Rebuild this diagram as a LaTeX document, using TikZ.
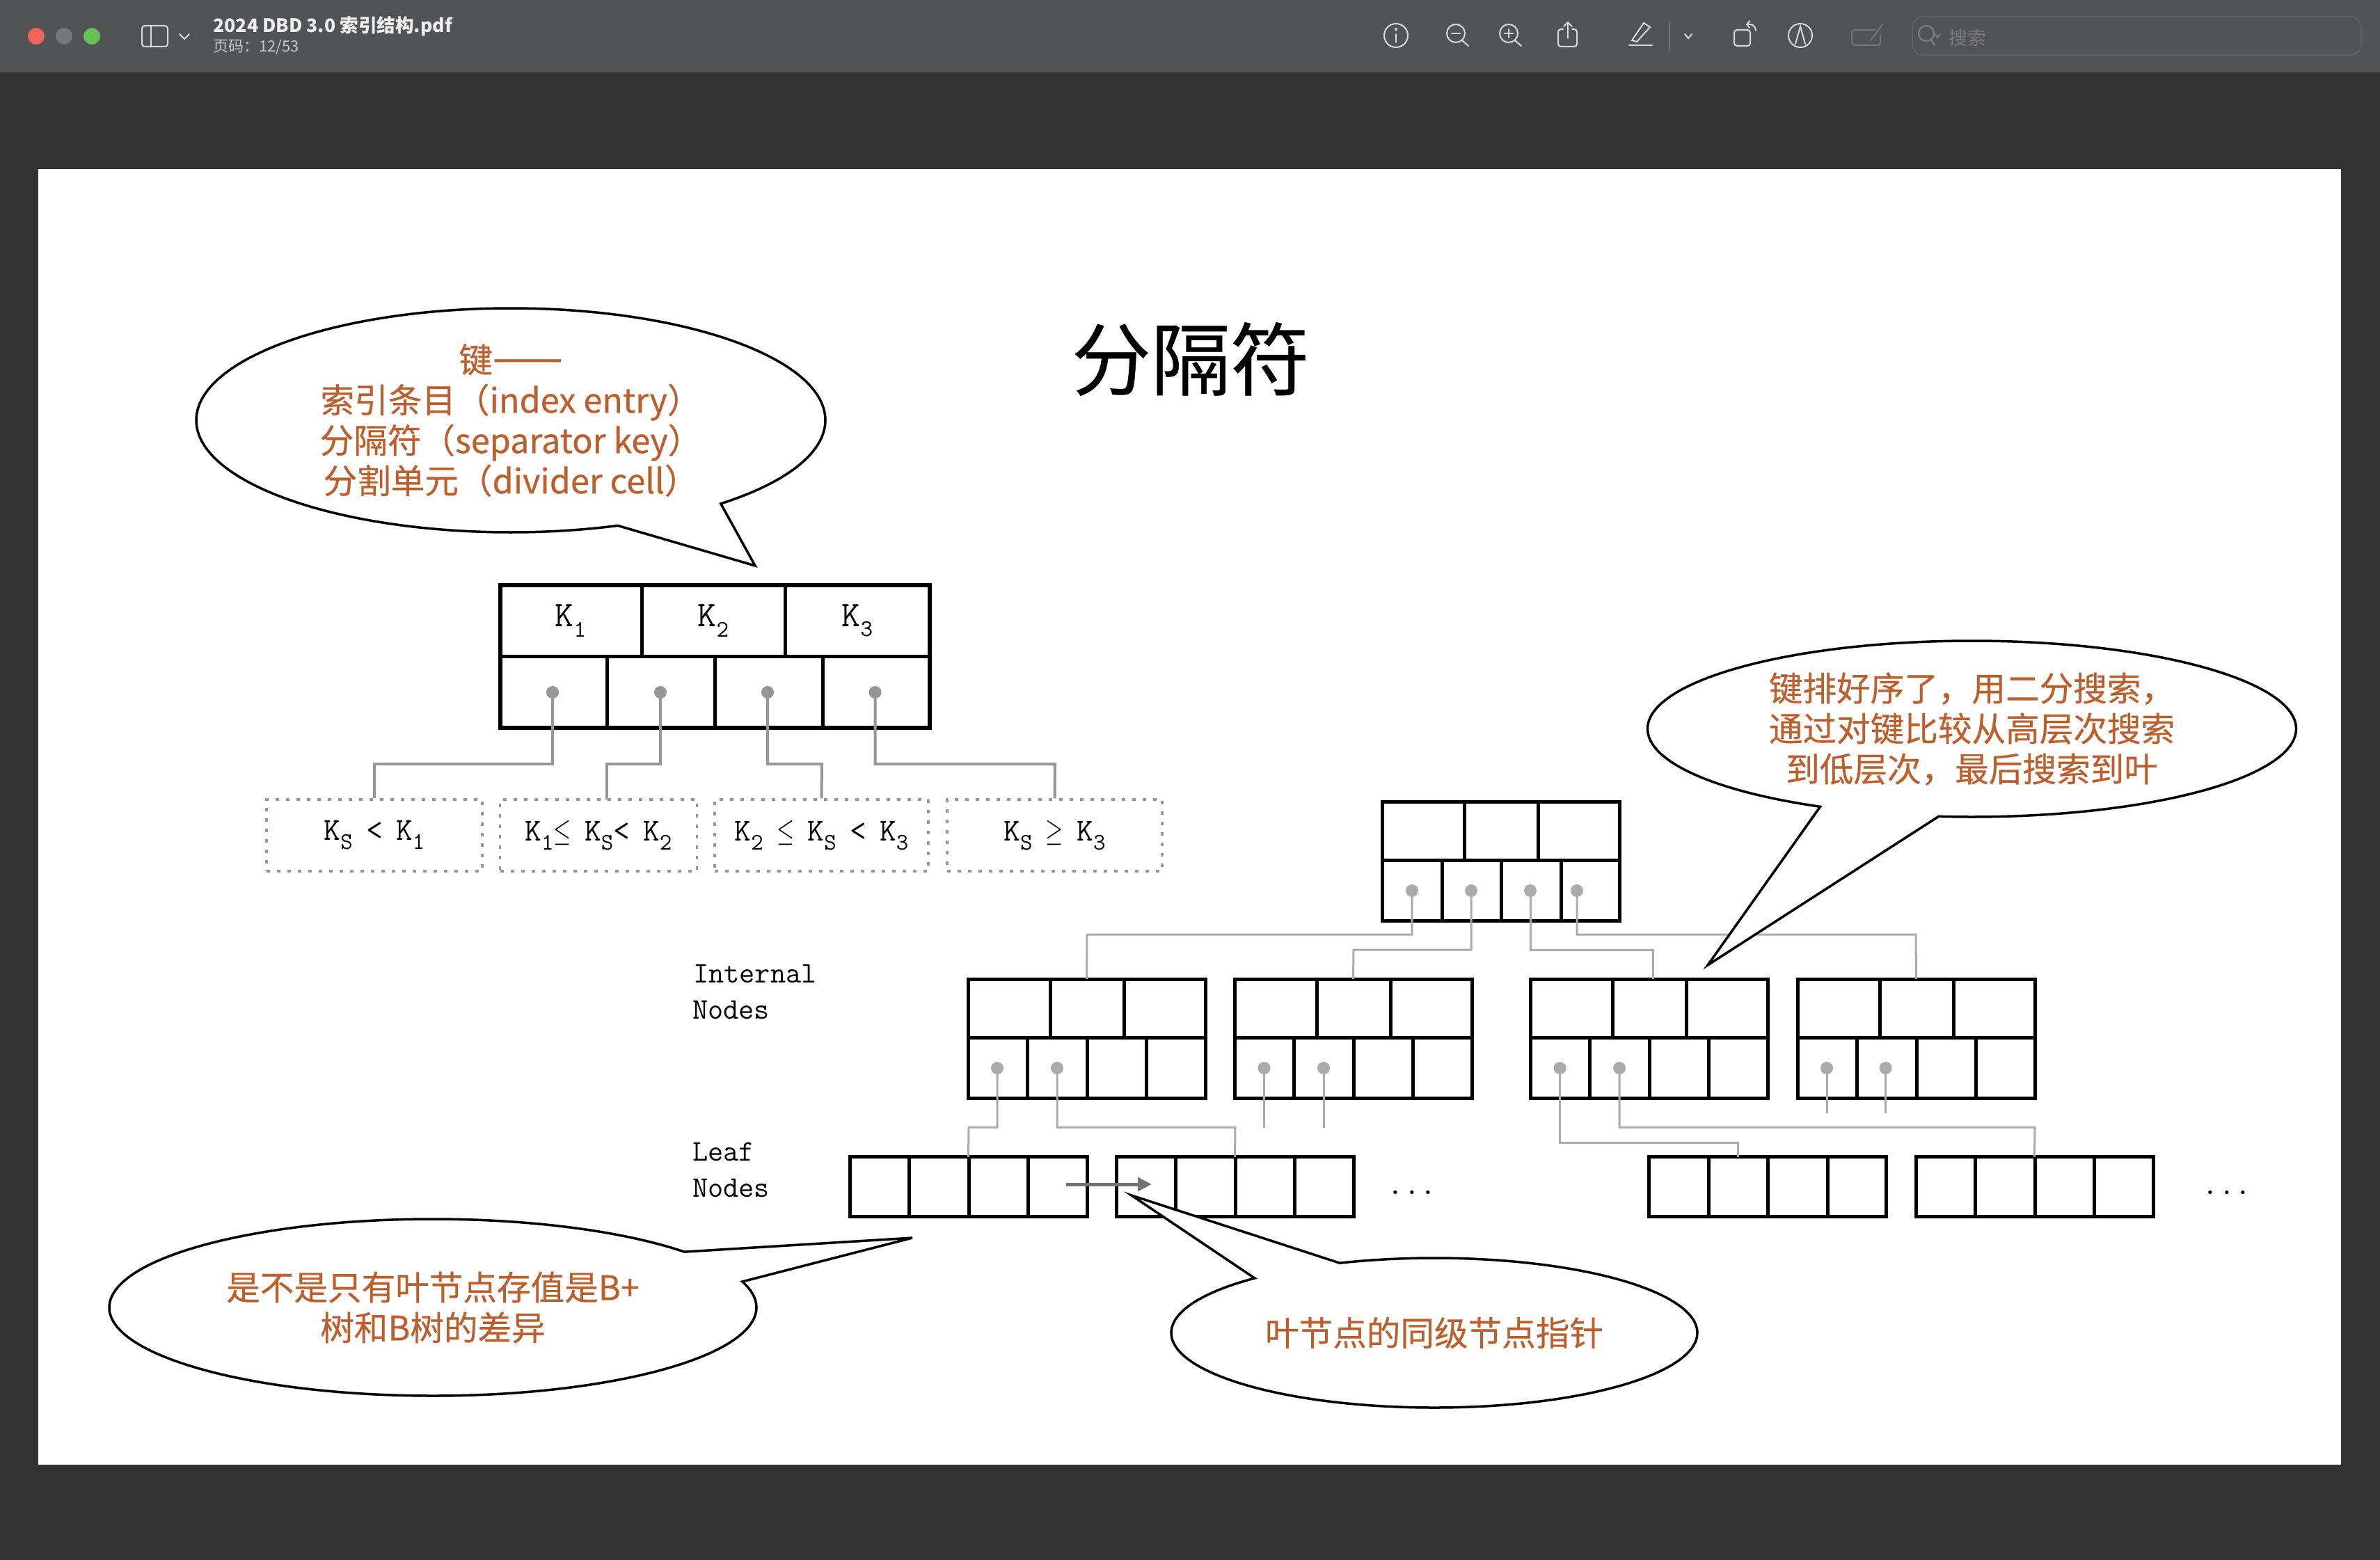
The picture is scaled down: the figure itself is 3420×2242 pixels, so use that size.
\documentclass[tikz,border=0pt]{standalone}
\usepackage{fix-cm}
\usepackage{fontspec}
\usetikzlibrary{calc,shapes.callouts,arrows.meta,shadows}
\newfontfamily\cjk{Noto Sans CJK SC}
\newfontfamily\cjkheavy[FakeBold=0.4]{Noto Sans CJK SC}

\definecolor{barbg}{HTML}{525355}
\definecolor{deskbg}{HTML}{333333}
\definecolor{noteink}{HTML}{BC5F2C}
\definecolor{ptrtop}{HTML}{969696}
\definecolor{ptrlow}{HTML}{ABABAB}
\definecolor{lampred}{HTML}{F1665C}
\definecolor{lampgrey}{HTML}{76777A}
\definecolor{lampgreen}{HTML}{5FC454}

\newcommand{\ttheavy}{\ttfamily\addfontfeature{FakeBold=0.3}}

\tikzset{
  cellline/.style={draw=black, line width=2.5pt},
  blockbox/.style={cellline, fill=white, drop shadow={opacity=.22, shadow xshift=.75pt, shadow yshift=-1.5pt}, anchor=north west, inner sep=0pt, outer sep=0pt, minimum width=170.5pt},
  ptrdot/.style={circle, fill=ptrlow, inner sep=0pt, outer sep=0pt, minimum size=9pt},
  ptrline/.style={draw=ptrlow, line width=1.5pt},
  condbox/.style={draw=ptrtop, line width=1.75pt, dash pattern=on 2.5pt off 5pt, inner sep=0pt, minimum height=51.5pt, font=\fontsize{23}{23}\ttheavy},
  keytext/.style={inner sep=0pt, font=\fontsize{26}{26}\ttheavy},
  moretext/.style={inner sep=0pt, font=\fontsize{23}{23}\ttheavy},
  sidetext/.style={anchor=base west, inner sep=0pt, font=\fontsize{21.5}{21.5}\ttheavy},
  notebox/.style={ellipse callout, draw=black, fill=white, line width=1.75pt, inner sep=0pt, outer sep=0pt, callout pointer arc=22, text=noteink, align=center, font=\fontsize{24.3}{29}\cjkheavy},
  barline/.style={draw=#1, line width=1pt, line cap=round},
  barline/.default={white!85!black},
}

\newcommand{\ksub}[1]{\raisebox{-0.28em}{\fontsize{17}{17}\selectfont #1}}
\newcommand{\kgap}{\hspace{.42em}}
\newcommand{\kleq}{\scalebox{.7}[1]{$\leq$}}
\newcommand{\kgeq}{\scalebox{.7}[1]{$\geq$}}

% three keys over four pointers
\newcommand{\treeblock}[3]{%
  \node[blockbox, minimum height=85.5pt] (#1) at (#2,#3) {};
  \foreach \dx in {118,224} \draw[cellline] ($(#1.north west)+(\dx,0)$) -- ++(0,84);
  \draw[cellline] ($(#1.north west)+(0,84)$) -- ++(341,0);
  \foreach \dx in {85.5,171,256.5} \draw[cellline] ($(#1.north west)+(\dx,84)$) -- ++(0,87);
}
\newcommand{\leafblock}[3]{%
  \node[blockbox, minimum height=42.75pt] (#1) at (#2,#3) {};
  \foreach \dx in {85.5,171,256.5} \draw[cellline] ($(#1.north west)+(\dx,0)$) -- ++(0,85.5);
}

\begin{document}
\begin{tikzpicture}[x=0.5pt,y=-0.5pt]
  \fill[deskbg] (0,0) rectangle (3420,2242);
  \fill[barbg] (0,0) rectangle (3420,104);
  \fill[white] (55,243) rectangle (3364,2105);

  % window bar
  \fill[lampred] (52,52) circle (12);
  \fill[lampgrey] (92,52) circle (12);
  \fill[lampgreen] (132,52) circle (12);
  \draw[barline, rounded corners=2pt] (204,37) rectangle (241,67);
  \draw[barline] (217,37) -- (217,67);
  \draw[barline] (258,49) -- (265,56) -- (272,49);
  \node[anchor=west, inner sep=0pt, text=white!93!black, font=\fontsize{13.3}{14}\cjk\bfseries] (pdfname) at (306,38) {2024 DBD 3.0 索引结构.pdf};
  \node[anchor=west, inner sep=0pt, text=white!78!black, font=\fontsize{11}{11}\cjk] (pagenum) at (306,68) {页码：12/53};

  \draw[barline] (2006,51) circle (17);
  \draw[barline] (2006,49) -- (2006,61);
  \fill[white!85!black] (2006,42) circle (2);
  \draw[barline] (2092,48) circle (13);
  \draw[barline] (2086,48) -- (2098,48);
  \draw[barline] (2101,58) -- (2110,66);
  \draw[barline] (2168,48) circle (13);
  \draw[barline] (2162,48) -- (2174,48);
  \draw[barline] (2168,42) -- (2168,54);
  \draw[barline] (2177,58) -- (2186,66);
  \draw[barline, rounded corners=2pt] (2246,42) -- (2239,42) -- (2239,67) -- (2266,67) -- (2266,42) -- (2259,42);
  \draw[barline] (2253,55) -- (2253,32);
  \draw[barline] (2247,38) -- (2253,32) -- (2259,38);
  \draw[barline] (2341,65) -- (2374,65);
  \draw[barline] (2345,58) -- (2362,33) -- (2371,39) -- (2352,60) -- cycle;
  \draw[barline={white!45!black}] (2399,32) -- (2399,72);
  \draw[barline] (2421,49) -- (2426,55) -- (2431,49);
  \draw[barline, rounded corners=2pt] (2492,43) rectangle (2515,66);
  \draw[barline] (2523,44) .. controls (2522,36) and (2517,34) .. (2510,35);
  \draw[barline] (2514,30) -- (2510,35) -- (2514,40);
  \draw[barline] (2587,51) circle (17);
  \draw[barline] (2580,63) -- (2587,38) -- (2594,63);
  \draw[barline={white!45!black}, rounded corners=2pt] (2695,43) -- (2661,43) -- (2661,65) -- (2702,65) -- (2702,50);
  \draw[barline={white!45!black}] (2688,58) -- (2705,35);
  \draw[barline={white!38!black}, rounded corners=8pt] (2748,24) rectangle (3393,79);
  \draw[barline={white!50!black}] (2768,48) circle (11);
  \draw[barline={white!50!black}] (2775,57) -- (2780,65);
  \draw[barline={white!50!black}] (2780,49) -- (2784,54) -- (2788,49);
  \node[anchor=west, inner sep=0pt, text=white!48!black, font=\fontsize{13.3}{14}\cjk] (searchbox) at (2800,54) {搜索};

  % title
  \node[inner sep=0pt, font=\fontsize{57}{57}\cjkheavy] (title) at (1711,516) {分隔符};

  % large node with its key ranges
  \node[blockbox, line width=3pt, minimum width=308.5pt, minimum height=102.5pt] (big) at (718.5,841) {};
  \draw[cellline] (718.5,943) -- (1335.5,943);
  \foreach \xk in {922.5,1128} \draw[cellline] (\xk,841) -- (\xk,943);
  \foreach \xk in {872,1027,1182} \draw[cellline] (\xk,943) -- (\xk,1046);

  \node[keytext] (k1) at (820,892) {K\ksub{1}};
  \node[keytext] (k2) at (1025,892) {K\ksub{2}};
  \node[keytext] (k3) at (1232,892) {K\ksub{3}};

  \node[ptrdot, fill=ptrtop] (b1) at (794,995) {};
  \node[ptrdot, fill=ptrtop] (b2) at (949,995) {};
  \node[ptrdot, fill=ptrtop] (b3) at (1103,995) {};
  \node[ptrdot, fill=ptrtop] (b4) at (1257.5,995) {};

  \node[condbox, minimum width=155pt] (c1) at (538,1200.5) {K\ksub{S}\kgap<\kgap K\ksub{1}};
  \node[condbox, minimum width=141.5pt] (c2) at (860,1200.5) {K\ksub{1}\kleq\kgap K\ksub{S}<\kgap K\ksub{2}};
  \node[condbox, minimum width=153.5pt] (c3) at (1180.5,1200.5) {K\ksub{2}\kgap\kleq\kgap K\ksub{S}\kgap<\kgap K\ksub{3}};
  \node[condbox, minimum width=154.5pt] (c4) at (1515.5,1200.5) {K\ksub{S}\kgap\kgeq\kgap K\ksub{3}};

  \coordinate (m1) at (538,1098);
  \coordinate (m2) at (872,1098);
  \coordinate (m3) at (1181,1098);
  \coordinate (m4) at (1516,1098);
  \coordinate (c2top) at (872,1149);

  \draw[ptrline, draw=ptrtop, line width=2pt] (b1) |- (m1) -- (c1.north);
  \draw[ptrline, draw=ptrtop, line width=2pt] (b2) |- (m2) -- (c2top);
  \draw[ptrline, draw=ptrtop, line width=2pt] (b3) |- (m3) -- (c3.north);
  \draw[ptrline, draw=ptrtop, line width=2pt] (b4) |- (m4) -- (c4.north);

  % tree
  \treeblock{root}{1986.5}{1152}
  \treeblock{i1}{1391}{1407}
  \treeblock{i2}{1774}{1407}
  \treeblock{i3}{2199}{1407}
  \treeblock{i4}{2583}{1407}
  \leafblock{l1}{1221}{1662.5}
  \leafblock{l2}{1604}{1662.5}
  \leafblock{l3}{2369.5}{1662.5}
  \leafblock{l4}{2753}{1662.5}

  \node[ptrdot] (r1) at (2029,1280) {};
  \node[ptrdot] (r2) at (2114,1280) {};
  \node[ptrdot] (r3) at (2199,1280) {};
  \node[ptrdot] (r4) at (2266,1280) {};
  \node[ptrdot] (p1) at (1433,1535) {};
  \node[ptrdot] (p2) at (1519,1535) {};
  \node[ptrdot] (p3) at (1816.5,1535) {};
  \node[ptrdot] (p4) at (1902,1535) {};
  \node[ptrdot] (p5) at (2241.5,1535) {};
  \node[ptrdot] (p6) at (2327,1535) {};
  \node[ptrdot] (p7) at (2625,1535) {};
  \node[ptrdot] (p8) at (2709.5,1535) {};

  \coordinate (s1) at (1562,1343);
  \coordinate (s2) at (1945,1365);
  \coordinate (s3) at (2375,1365);
  \coordinate (s4) at (2753,1343);
  \coordinate (s3top) at (2375,1407);
  \coordinate (t1) at (1392,1620);
  \coordinate (t2) at (1775,1620);
  \coordinate (t5) at (2497,1642);
  \coordinate (t5top) at (2497,1662.5);
  \coordinate (t6) at (2924,1620);
  \coordinate (e3) at (1816.5,1621);
  \coordinate (e4) at (1902,1621);
  \coordinate (e7) at (2625,1600);
  \coordinate (e8) at (2709.5,1600);

  \draw[ptrline] (r1) |- (s1) -- (i1.north);
  \draw[ptrline] (r2) |- (s2) -- (i2.north);
  \draw[ptrline] (r3) |- (s3) -- (s3top);
  \draw[ptrline] (r4) |- (s4) -- (i4.north);
  \draw[ptrline] (p1) |- (t1) -- (l1.north);
  \draw[ptrline] (p2) |- (t2) -- (l2.north);
  \draw[ptrline] (p3) -- (e3);
  \draw[ptrline] (p4) -- (e4);
  \draw[ptrline] (p5) |- (t5) -- (t5top);
  \draw[ptrline] (p6) |- (t6) -- (l4.north);
  \draw[ptrline] (p7) -- (e7);
  \draw[ptrline] (p8) -- (e8);

  \coordinate (hop1) at (1532,1702);
  \coordinate (hop2) at (1655,1702);
  \draw[draw=white!45!black, line width=2.5pt, -{Triangle[length=10pt,width=9.5pt]}] (hop1) -- (hop2);

  \node[sidetext] (int1) at (996,1412) {Internal};
  \node[sidetext] (int2) at (995,1464) {Nodes};
  \node[sidetext] (leaf1) at (995,1668) {Leaf};
  \node[sidetext] (leaf2) at (995,1720) {Nodes};
  \node[moretext, anchor=base] (more1) at (2029,1716) {...};
  \node[moretext, anchor=base] (more2) at (3200,1716) {...};

  % speech bubbles
  \node[notebox, minimum width=452pt, minimum height=161pt, callout absolute pointer={(1085,813)}] (note1) at (734,604)
    {键{\fontsize{30}{29}\selectfont ——}\\索引条目（index entry）\\分隔符（separator key）\\分割单元（divider cell）};
  \node[notebox, minimum width=466pt, minimum height=126.5pt, callout absolute pointer={(2454,1387)}] (note2) at (2833.5,1047.5)
    {键排好序了，用二分搜索，\\通过对键比较从高层次搜索\\到低层次，最后搜索到叶};
  \node[notebox, minimum width=465pt, minimum height=127pt, callout absolute pointer={(1311,1779)}] (note3) at (622,1879)
    {是不是只有叶节点存值是B+\\树和B树的差异};
  \node[notebox, minimum width=378pt, minimum height=107.5pt, callout absolute pointer={(1626,1718)}] (note4) at (2061,1915.5)
    {叶节点的同级节点指针};

  \useasboundingbox (0,0) rectangle (3420,2242);
\end{tikzpicture}
\end{document}
